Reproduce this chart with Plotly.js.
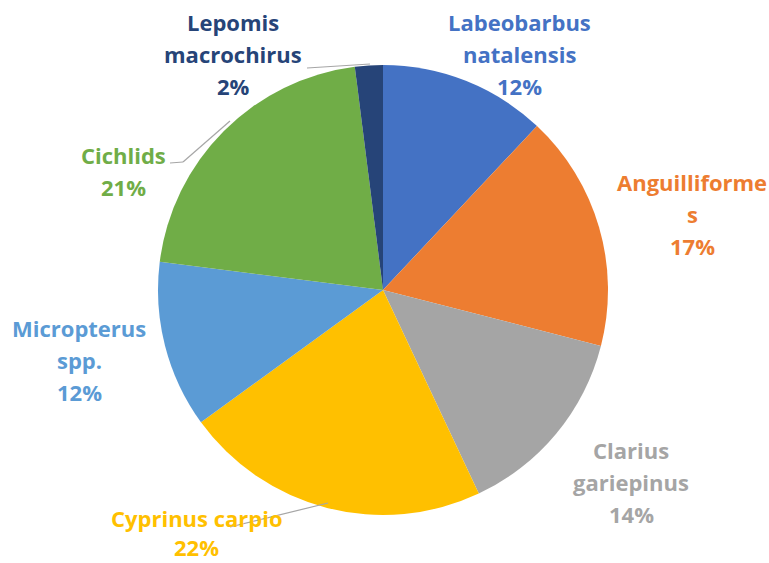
<!DOCTYPE html>
<html>
<head>
<meta charset="utf-8">
<script src="https://cdn.plot.ly/plotly-3.0.1.min.js"></script>
<style>html,body{margin:0;padding:0;background:#fff;}#chart{width:769px;height:563px;}</style>
</head>
<body>
<div id="chart"></div>
<script>
// Data
var categories = ["Labeobarbus natalensis", "Anguilliformes", "Clarius gariepinus", "Cyprinus carpio", "Micropterus spp.", "Cichlids", "Lepomis macrochirus"];
var values = [12, 17, 14, 22, 12, 21, 2];
var labelLines = [
  ["Labeobarbus", "natalensis"],
  ["Anguilliforme", "s"],
  ["Clarius", "gariepinus"],
  ["Cyprinus carpio"],
  ["Micropterus", "spp."],
  ["Cichlids"],
  ["Lepomis", "macrochirus"]
];
var colors = ["#4472C4", "#ED7D31", "#A5A5A5", "#FFC000", "#5B9BD5", "#70AD47", "#264478"];

// Layout helpers (pixel -> paper)
var W = 769, H = 563;
function px(x){ return x / W; }
function py(y){ return 1 - y / H; }

// label anchor (center x, first line y) and line step in pixels
var labelPos = [
  [519, 22], [692, 182], [631, 450], [197, 518], [79, 328], [123, 155], [233, 22]
];
var lineSteps = [32, 32, 32, 29, 32, 32, 32];

var annotations = [];
categories.forEach(function(c, i){
  var lines = labelLines[i].concat([values[i] + "%"]);
  lines.forEach(function(t, k){
    annotations.push({
      xref: "paper", yref: "paper",
      x: px(labelPos[i][0]), y: py(labelPos[i][1] + k * lineSteps[i]),
      xanchor: "center", yanchor: "middle",
      text: "<b>" + t + "</b>", showarrow: false,
      font: {family: "'Open Sans', 'Noto Sans', sans-serif", size: 22, color: colors[i]}
    });
  });
});

var leaders = [
  [[307, 68], [370, 64]],
  [[170, 163], [183, 162], [230, 121]],
  [[230, 527], [328, 503]]
];
var shapes = [];
leaders.forEach(function(pts){
  for (var k = 0; k < pts.length - 1; k++) {
    shapes.push({type: "line", xref: "paper", yref: "paper",
      x0: px(pts[k][0]), y0: py(pts[k][1]), x1: px(pts[k+1][0]), y1: py(pts[k+1][1]),
      line: {color: "#A6A6A6", width: 1.2}});
  }
});

var trace = {
  type: "pie",
  labels: categories,
  values: values,
  sort: false,
  direction: "clockwise",
  rotation: 0,
  marker: {colors: colors, line: {width: 0}},
  textinfo: "none",
  hoverinfo: "label+percent",
  domain: {x: [0, 766 / W], y: [48 / H, 498 / H]}
};

var layout = {
  width: W, height: H,
  margin: {l: 0, r: 0, t: 0, b: 0},
  showlegend: false,
  paper_bgcolor: "#ffffff",
  annotations: annotations,
  shapes: shapes
};

Plotly.newPlot("chart", [trace], layout, {displayModeBar: false, staticPlot: true});
</script>
</body>
</html>
